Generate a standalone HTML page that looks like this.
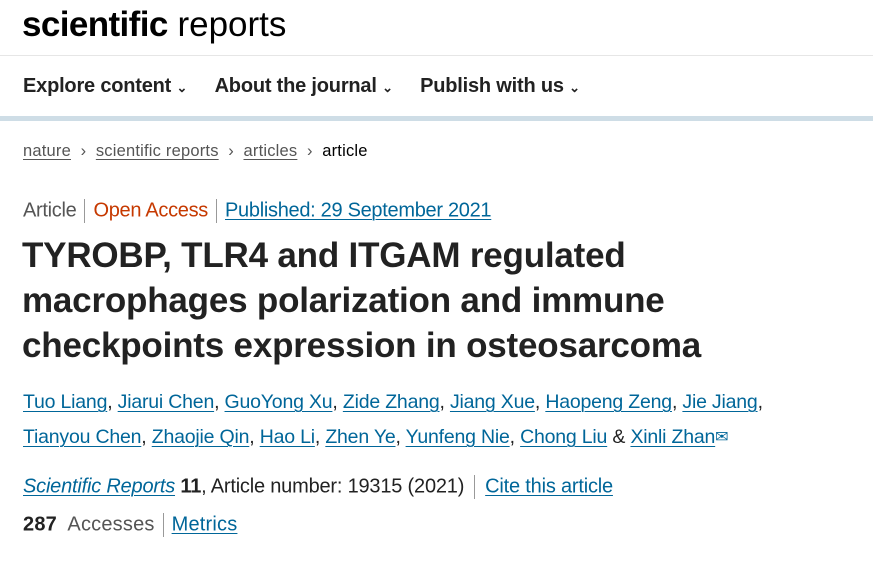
<!DOCTYPE html>
<html><head><meta charset="utf-8">
<style>
body{margin:0;width:873px;height:579px;background:#fff;font-family:"Liberation Sans",Arial,sans-serif;color:#222;position:relative;overflow:hidden}
.a{position:absolute;white-space:nowrap}
a{color:#006699;text-decoration:underline;text-underline-offset:3px;text-decoration-thickness:1px}
.g{color:#555}
.sep{display:inline-block;width:1px;height:24px;background:#999;vertical-align:middle;margin:0 8px}
</style></head><body>
<div class="a" style="left:22px;top:5px;font-size:35px;letter-spacing:0px;color:#000"><b style="letter-spacing:-0.6px">scientific</b> reports</div>
<div class="a" style="left:0;top:55px;width:873px;height:1px;background:#e6e6e6"></div>
<div class="a" style="left:23px;top:75px;font-size:20px;font-weight:bold;letter-spacing:-0.2px">
<span>Explore content <span style="font-size:13px">&#8964;</span></span>
<span style="margin-left:22px">About the journal <span style="font-size:13px">&#8964;</span></span>
<span style="margin-left:22px">Publish with us <span style="font-size:13px">&#8964;</span></span></div>
<div class="a" style="left:0;top:116px;width:873px;height:5px;background:#cedde6"></div>
<div class="a g" style="left:23px;top:142px;font-size:16.5px;letter-spacing:0.2px">
<a style="color:#555">nature</a> &nbsp;›&nbsp; <a style="color:#555">scientific reports</a> &nbsp;›&nbsp; <a style="color:#555">articles</a> &nbsp;›&nbsp; <span style="color:#000">article</span></div>
<div class="a" style="left:23px;top:199px;font-size:20px;letter-spacing:-0.3px">
<span class="g">Article</span><span class="sep"></span><span style="color:#c63900">Open Access</span><span class="sep"></span><a>Published: 29 September 2021</a></div>
<div class="a" style="left:22px;top:233px;font-size:35px;font-weight:bold;line-height:45px;letter-spacing:-0.2px;color:#222">TYROBP, TLR4 and ITGAM regulated<br>macrophages polarization and immune<br>checkpoints expression in osteosarcoma</div>
<div class="a" style="left:23px;top:385px;font-size:19.5px;line-height:35px;letter-spacing:-0.2px">
<a>Tuo Liang</a>, <a>Jiarui Chen</a>, <a>GuoYong Xu</a>, <a>Zide Zhang</a>, <a>Jiang Xue</a>, <a>Haopeng Zeng</a>, <a>Jie Jiang</a>,<br>
<a>Tianyou Chen</a>, <a>Zhaojie Qin</a>, <a>Hao Li</a>, <a>Zhen Ye</a>, <a>Yunfeng Nie</a>, <a>Chong Liu</a> &amp; <a>Xinli Zhan</a><span style="color:#006699;font-size:16px;vertical-align:top">&#9993;</span></div>
<div class="a" style="left:23px;top:475px;font-size:20px;letter-spacing:-0.2px">
<a><i>Scientific Reports</i></a> <b>11</b>, Article number: 19315 (2021)<span class="sep" style="margin:0 10px"></span><a>Cite this article</a></div>
<div class="a" style="left:23px;top:513px;font-size:20px;letter-spacing:0.2px">
<b>287</b>&nbsp; <span class="g">Accesses</span><span class="sep"></span><a>Metrics</a></div>
</body></html>
